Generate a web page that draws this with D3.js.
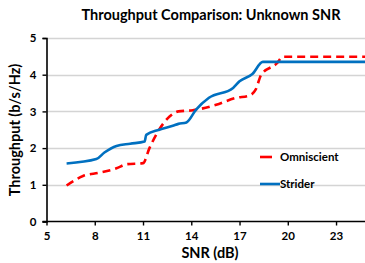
<!DOCTYPE html>
<html>
<head>
<meta charset="utf-8">
<script src="https://cdn.jsdelivr.net/npm/d3@7"></script>
<style>
body { margin: 0; background: #fff; }
svg text { font-family: Lato, "Open Sans", sans-serif; font-weight: bold; fill: #000; }
</style>
</head>
<body>
<svg id="chart" width="365" height="263"></svg>
<script>
// values
var striderX = [6.25, 8.1, 8.6, 9.35, 10.2, 11.1, 11.2, 12.0, 12.85, 13.2, 13.7, 14.3, 15.1, 16.6, 17.0, 17.8, 18.45, 24.8];
var striderY = [1.58, 1.70, 1.88, 2.06, 2.12, 2.18, 2.36, 2.50, 2.61, 2.66, 2.70, 3.05, 3.37, 3.64, 3.82, 4.02, 4.35, 4.35];
var omniX = [6.25, 7.27, 8.3, 9.35, 9.97, 11.0, 11.4, 12.0, 12.65, 13.2, 14.1, 15.55, 16.8, 17.6, 18.0, 18.35, 19.3, 19.7, 24.8];
var omniY = [0.98, 1.24, 1.33, 1.45, 1.56, 1.59, 2.0, 2.5, 2.86, 3.0, 3.03, 3.18, 3.37, 3.43, 3.59, 4.0, 4.30, 4.49, 4.49];
var xTicks = [5, 8, 11, 14, 17, 20, 23];
var yTicks = [0, 1, 2, 3, 4, 5];
var seriesNames = ["Omniscient", "Strider"];

var svg = d3.select("#chart");
var x = d3.scaleLinear().domain([5, 24.8]).range([46.5, 365]);
var y = d3.scaleLinear().domain([0, 5]).range([221.5, 38]);

// gridlines
svg.append("g").selectAll("line")
	.data(yTicks.slice(1))
	.enter().append("line")
	.attr("x1", x(5)).attr("x2", 365)
	.attr("y1", function (d) { return Math.round(y(d)) + 0.5; })
	.attr("y2", function (d) { return Math.round(y(d)) + 0.5; })
	.attr("stroke", "#d4d4d4").attr("stroke-width", 1.3);

// axes
var xAxis = svg.append("g")
	.attr("transform", "translate(0," + y(0) + ")")
	.call(d3.axisBottom(x).tickValues(xTicks).tickSize(4).tickPadding(6));
var yAxis = svg.append("g")
	.attr("transform", "translate(" + x(5) + ",0)")
	.call(d3.axisLeft(y).tickValues(yTicks).tickFormat(d3.format("d")).tickSize(4).tickPadding(6));

[xAxis, yAxis].forEach(function (a) {
	a.select(".domain").attr("stroke", "#000").attr("stroke-width", 1.6);
	a.selectAll(".tick line").attr("stroke", "#000").attr("stroke-width", 1.4);
	a.selectAll(".tick text").style("font-size", "11.5px").attr("fill", "#000");
});
xAxis.select(".domain").attr("d", "M" + (x(5) - 4) + ",0H365");

var line = d3.line()
	.x(function (d) { return x(d[0]); })
	.y(function (d) { return y(d[1]); })
	.curve(d3.curveMonotoneX);

var striderData = striderX.map(function (v, i) { return [v, striderY[i]]; });
var omniData = omniX.map(function (v, i) { return [v, omniY[i]]; });

svg.append("path").datum(omniData)
	.attr("d", line).attr("fill", "none")
	.attr("stroke", "#ff0000").attr("stroke-width", 2.6)
	.attr("stroke-dasharray", "8,5");

svg.append("path").datum(striderData)
	.attr("d", line).attr("fill", "none")
	.attr("stroke", "#0070c0").attr("stroke-width", 2.6);

// legend
var legend = svg.append("g");
legend.append("line")
	.attr("x1", 260).attr("x2", 272).attr("y1", 157).attr("y2", 157)
	.attr("stroke", "#ff0000").attr("stroke-width", 2.6);
legend.append("line")
	.attr("x1", 260).attr("x2", 280).attr("y1", 184).attr("y2", 184)
	.attr("stroke", "#0070c0").attr("stroke-width", 2.6);
legend.selectAll("text")
	.data(seriesNames)
	.enter().append("text")
	.attr("x", 280)
	.attr("y", function (d, i) { return 161 + i * 27; })
	.style("font-size", "11.5px")
	.text(function (d) { return d; });

// titles
svg.append("text")
	.attr("x", 211).attr("y", 20)
	.attr("text-anchor", "middle")
	.style("font-size", "14.5px")
	.text("Throughput Comparison: Unknown SNR");

svg.append("text")
	.attr("transform", "translate(20,130) rotate(-90)")
	.attr("text-anchor", "middle")
	.style("font-size", "14.5px")
	.text("Throughput (b/s/Hz)");

svg.append("text")
	.attr("x", 210).attr("y", 258)
	.attr("text-anchor", "middle")
	.style("font-size", "14.5px")
	.text("SNR (dB)");
</script>
</body>
</html>
